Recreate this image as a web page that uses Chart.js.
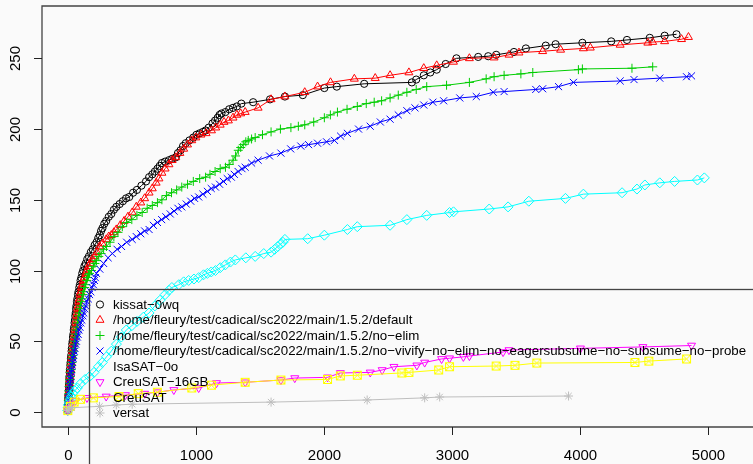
<!DOCTYPE html>
<html>
<head>
<meta charset="utf-8">
<script src="https://cdn.jsdelivr.net/npm/chart.js@4/dist/chart.umd.min.js"></script>
<style>
  html, body { margin: 0; padding: 0; background: #fafafa; }
  #wrap { width: 753px; height: 464px; }
</style>
</head>
<body>
<div id="wrap"><canvas id="cactus" width="753" height="464"></canvas></div>
<script>
// ===== DATA (time in s, solved instances) =====
const xTicks = [0, 1000, 2000, 3000, 4000, 5000];
const yTicks = [0, 50, 100, 150, 200, 250];

const seriesNames = [
    'kissat−0wq',
    '/home/fleury/test/cadical/sc2022/main/1.5.2/default',
    '/home/fleury/test/cadical/sc2022/main/1.5.2/no−elim',
    '/home/fleury/test/cadical/sc2022/main/1.5.2/no−vivify−no−elim−no−eagersubsume−no−subsume−no−probe',
    'IsaSAT−0o',
    'CreuSAT−16GB',
    'CreuSAT',
    'versat',
];

const kissat = [[0,1],[1,3],[2,5],[3,8],[4,10],[5,12],[7,15],[8,18],[10,20],[12,23],[13,25],[15,28],[17,30],[20,33],[22,35],[25,38],[27,40],[30,43],[32,45],[35,48],[38,50],[41,53],[44,55],[47,58],[50,60],[53,63],[56,65],[59,68],[62,70],[65,73],[68,75],[72,78],[75,80],[80,83],[84,85],[90,88],[95,90],[100,93],[106,95],[113,98],[120,100],[130,103],[140,105],[152,108],[165,110],[180,113],[195,115],[210,118],[225,120],[238,123],[250,125],[260,128],[271,130],[285,133],[300,135],[320,138],[340,140],[360,143],[379,145],[405,147],[430,149],[455,151],[480,152],[510,155],[540,157],[575,160],[611,163],[635,166],[660,168],[680,170],[700,172],[718,174],[735,176],[760,177],[790,178],[815,179],[843,180],[860,183],[880,185],[900,188],[921,190],[950,192],[980,194],[1005,196],[1030,197],[1055,198],[1076,199],[1100,201],[1130,204],[1150,206],[1170,208],[1185,210],[1200,211],[1230,212],[1260,214],[1290,215],[1320,216],[1355,218],[1447,219],[1579,221],[1695,223],[1835,224],[2003,229],[2100,230],[2314,232],[2686,233],[2720,235],[2779,238],[2830,240],[2880,242],[2950,246],[3034,250],[3204,251],[3282,251.5],[3344,252.5],[3483,254.5],[3576,257],[3731,259],[3808,260],[4017,261],[4242,262],[4365,263],[4543,264.5],[4659,266],[4752,267]];

const cadicalDefault = [[0,1],[2,3],[3,5],[5,8],[6,10],[8,13],[10,15],[12,18],[14,20],[16,23],[18,25],[21,28],[23,30],[26,33],[28,35],[31,38],[34,40],[37,43],[40,45],[43,48],[46,50],[50,53],[53,55],[57,58],[60,60],[63,63],[66,65],[69,68],[72,70],[76,73],[80,75],[85,78],[90,80],[95,83],[100,85],[106,88],[112,90],[120,93],[130,95],[140,98],[150,100],[162,103],[175,105],[192,108],[210,110],[228,113],[248,117],[270,119],[300,122],[320,124],[340,125],[360,127],[379,129],[410,132],[440,135],[470,138],[503,141],[535,145],[570,148],[600,151],[635,155],[660,158],[690,162],[712,165],[735,169],[760,172],[790,175],[815,178],[843,180],[875,183],[905,186],[935,189],[968,192],[1000,194],[1040,196],[1080,197],[1122,199],[1155,201],[1190,203],[1220,205],[1254,206],[1290,208],[1320,210],[1350,211],[1385,212],[1486,215],[1587,221],[1695,223],[1850,226],[1950,230],[2051,233],[2237,235.5],[2400,236],[2516,238],[2663,240],[2779,243],[2880,245],[3011,247.5],[3135,250],[3328,250.5],[3444,252.5],[3522,254],[3707,255],[3847,256],[4025,257],[4079,257.5],[4312,259.5],[4528,261],[4566,261.5],[4659,262],[4791,263.5],[4845,265]];

const cadicalNoElim = [[0,1],[2,3],[3,5],[5,8],[7,10],[9,13],[11,15],[14,18],[16,20],[19,23],[21,25],[24,28],[27,30],[30,33],[33,35],[37,38],[40,40],[44,43],[47,45],[51,48],[55,50],[59,53],[63,55],[67,58],[72,60],[76,63],[80,65],[85,68],[90,70],[95,73],[100,75],[106,78],[112,80],[118,83],[125,85],[132,88],[140,90],[148,93],[155,95],[162,97],[170,98],[185,100],[200,103],[212,105],[224,107],[242,110],[260,112],[280,115],[302,117],[330,120],[360,124],[392,127],[426,131],[460,134],[500,136],[540,139],[581,141],[620,144],[660,146],[700,148],[735,150],[770,153],[810,155],[850,157],[890,159],[935,161],[980,163],[1030,165],[1076,166],[1110,168],[1150,170],[1190,172],[1231,173],[1260,175],[1290,178],[1310,181],[1331,185],[1350,187],[1370,189],[1390,191],[1409,192],[1435,193],[1463,194],[1520,196],[1587,198],[1660,200],[1742,201],[1800,202],[1850,203],[1920,205],[2003,208],[2050,210],[2105,212],[2180,214],[2260,216],[2330,218],[2392,219],[2450,220],[2516,222],[2580,224],[2647,226],[2720,228],[2802,230],[2957,231],[3135,233],[3266,235.5],[3328,237],[3406,238],[3537,239],[3630,240],[3986,242],[4017,242.5],[4404,243],[4566,244]];

const cadicalNoVivify = [[0,1],[2,3],[4,5],[6,8],[8,10],[11,13],[13,15],[16,18],[18,20],[21,23],[24,25],[27,28],[30,30],[34,33],[38,35],[42,38],[46,40],[51,43],[56,45],[62,48],[68,50],[75,53],[82,55],[88,58],[95,60],[102,63],[110,65],[118,68],[125,70],[132,73],[140,75],[150,78],[160,80],[170,83],[180,85],[190,88],[200,90],[208,93],[215,95],[224,98],[250,101],[280,105],[315,109],[348,112],[385,115],[420,117],[460,120],[503,122],[535,124],[570,126],[600,128],[635,129],[668,132],[700,134],[733,136],[766,138],[800,140],[830,142],[860,144],[890,145],[925,147],[960,149],[990,151],[1022,152],[1055,154],[1090,156],[1120,158],[1153,159],[1185,161],[1215,163],[1245,165],[1277,166],[1300,168],[1330,170],[1360,172],[1385,173],[1435,176],[1486,178],[1575,181],[1664,183],[1740,186],[1819,188],[1880,189],[1950,190],[2020,191],[2082,192],[2130,195],[2183,197],[2270,200],[2361,202],[2440,205],[2516,207],[2580,210],[2647,213],[2710,215],[2779,217],[2850,219],[2934,220],[3060,222],[3189,223],[3321,226],[3406,226.5],[3653,228],[3707,228.5],[3831,230],[3947,233],[4312,234],[4420,235],[4621,236],[4830,237],[4869,237.6]];

const isasat = [[0,1],[3,3],[6,5],[12,7],[20,9],[28,11],[39,13],[55,15],[75,17],[100,20],[135,23],[170,25],[205,28],[240,32],[270,35],[302,39],[340,43],[380,48],[418,53],[457,58],[500,61],[540,64],[590,67],[635,70],[680,75],[720,79],[760,83],[790,86],[813,88],[867,90],[905,92],[944,93],[985,94],[1022,95],[1060,97],[1090,98],[1120,99],[1153,100],[1190,102],[1230,104],[1270,106],[1308,107.5],[1390,109],[1463,110],[1530,112],[1587,113],[1615,115],[1640,117],[1665,119],[1680,120],[1695,122],[1873,122.5],[2003,125],[2183,129],[2260,131],[2516,132],[2647,136],[2802,139],[2980,141],[3011,141.5],[3290,143.5],[3437,145],[3599,149],[3885,151],[4025,154],[4327,155],[4443,157.6],[4505,160.5],[4621,162],[4737,163],[4915,164],[4969,165.5]];

const creusat16 = [[0,1],[10,3],[30,6],[60,8],[150,10],[300,11],[450,12],[600,13],[700,14],[828,15.6],[1022,17],[1161,20.5],[1385,21],[1664,22.6],[1772,24],[2028,24.5],[2128,27.6],[2361,28],[2454,29.7],[2546,32],[2725,33],[2786,35],[2918,37.5],[2980,38],[3088,39],[3135,39.6],[3398,42.4],[3444,43.8],[4002,45],[4489,46],[4869,47]];

const creusat = [[0,1],[20,4],[50,7],[100,9],[200,10],[400,11],[550,13],[700,14],[968,17],[1122,19],[1385,21],[1664,22.6],[2028,23],[2128,25.5],[2260,26],[2608,27.6],[2663,28],[2895,29.7],[2980,32],[3344,32.5],[3491,33],[3661,34.6],[4427,35],[4536,36],[4830,37.5]];

const versat = [[0,1],[10,2],[30,3],[248,4],[379,5],[503,5.5],[1587,7],[2337,8.5],[2786,10],[2903,10.6],[3909,11.3]];

const seriesData = [kissat, cadicalDefault, cadicalNoElim, cadicalNoVivify, isasat, creusat16, creusat, versat];
const seriesColors = ['#000000', '#ff0000', '#00cd00', '#0000ff', '#00ffff', '#ff00ff', '#ffff00', '#bebebe'];
const legendMarker = [true, true, true, true, false, true, false, true];

// square with a cross inside (R pch 7)
function squareCross(color) {
    const c = document.createElement('canvas');
    c.width = 11; c.height = 11;
    const g = c.getContext('2d');
    g.strokeStyle = color;
    g.lineWidth = 1;
    g.strokeRect(1.5, 1.5, 8, 8);
    g.beginPath();
    g.moveTo(1.5, 1.5); g.lineTo(9.5, 9.5);
    g.moveTo(9.5, 1.5); g.lineTo(1.5, 9.5);
    g.stroke();
    return c;
}

const pointStyles = ['circle', 'triangle', 'cross', 'crossRot', 'rectRot', 'triangle', squareCross('#ffff00'), 'star'];
const pointRotations = [0, 0, 0, 0, 0, 180, 0, 0];
const pointRadii = [3.6, 4.6, 4.5, 5, 5, 4.6, 5, 4.5];

const FONT = '"Liberation Sans", Arial, Helvetica, sans-serif';
const FRAME = '#444';

function drawMarker(ctx, i, x, y) {
    ctx.save();
    ctx.strokeStyle = seriesColors[i];
    ctx.lineWidth = 1;
    ctx.beginPath();
    const r = pointRadii[i];
    if (i === 0) {
        ctx.arc(x, y, r, 0, Math.PI * 2);
    } else if (i === 1 || i === 5) {
        const s = i === 1 ? 1 : -1;
        ctx.moveTo(x, y - s * r);
        ctx.lineTo(x + r * 0.866, y + s * r * 0.5);
        ctx.lineTo(x - r * 0.866, y + s * r * 0.5);
        ctx.closePath();
    } else if (i === 2) {
        ctx.moveTo(x - r, y); ctx.lineTo(x + r, y);
        ctx.moveTo(x, y - r); ctx.lineTo(x, y + r);
    } else if (i === 3) {
        const d = r * 0.707;
        ctx.moveTo(x - d, y - d); ctx.lineTo(x + d, y + d);
        ctx.moveTo(x + d, y - d); ctx.lineTo(x - d, y + d);
    } else if (i === 7) {
        const d = r * 0.707;
        ctx.moveTo(x - r, y); ctx.lineTo(x + r, y);
        ctx.moveTo(x, y - r); ctx.lineTo(x, y + r);
        ctx.moveTo(x - d, y - d); ctx.lineTo(x + d, y + d);
        ctx.moveTo(x + d, y - d); ctx.lineTo(x - d, y + d);
    }
    ctx.stroke();
    ctx.restore();
}

const rFrame = {
    id: 'rFrame',
    afterDraw(chart) {
        const ctx = chart.ctx;
        const area = chart.chartArea;
        const xs = chart.scales.x;
        const ys = chart.scales.y;

        ctx.save();
        ctx.strokeStyle = FRAME;
        ctx.lineWidth = 1.3;
        ctx.beginPath();
        ctx.moveTo(chart.width + 2, area.top);
        ctx.lineTo(area.left, area.top);
        ctx.lineTo(area.left, area.bottom);
        ctx.lineTo(chart.width + 2, area.bottom);
        ctx.stroke();

        // ticks and labels
        ctx.strokeStyle = '#222';
        ctx.lineWidth = 1;
        ctx.fillStyle = '#000';
        ctx.font = '15px ' + FONT;
        ctx.textAlign = 'center';
        ctx.textBaseline = 'middle';
        xTicks.forEach(v => {
            const px = Math.round(xs.getPixelForValue(v)) + 0.5;
            ctx.beginPath();
            ctx.moveTo(px, area.bottom);
            ctx.lineTo(px, area.bottom + 8);
            ctx.stroke();
            ctx.fillText(String(v), px, 456);
        });
        yTicks.forEach(v => {
            const py = Math.round(ys.getPixelForValue(v)) + 0.5;
            ctx.beginPath();
            ctx.moveTo(area.left, py);
            ctx.lineTo(area.left - 8, py);
            ctx.stroke();
            ctx.save();
            ctx.translate(16, py);
            ctx.rotate(-Math.PI / 2);
            ctx.fillText(String(v), 0, 0);
            ctx.restore();
        });

        // legend box
        ctx.strokeStyle = FRAME;
        ctx.lineWidth = 1.3;
        ctx.strokeRect(89.5, 289.5, chart.width + 10, 200);
        ctx.font = '13.3px ' + FONT;
        ctx.textAlign = 'left';
        seriesNames.forEach((name, i) => {
            const y = 304.5 + i * 15.5;
            if (legendMarker[i]) drawMarker(ctx, i, 100, y);
            ctx.fillStyle = '#000';
            ctx.fillText(name, 113, y + 0.5);
        });
        ctx.restore();
    }
};

new Chart(document.getElementById('cactus'), {
    type: 'scatter',
    data: {
        datasets: seriesData.map((arr, i) => ({
            label: seriesNames[i],
            data: arr.map(([x, y]) => ({ x, y })),
            showLine: true,
            borderColor: seriesColors[i],
            borderWidth: 1,
            pointStyle: pointStyles[i],
            pointRotation: pointRotations[i],
            pointRadius: pointRadii[i],
            pointBorderWidth: 1,
            pointBorderColor: seriesColors[i],
            pointBackgroundColor: 'rgba(0,0,0,0)',
            order: -i,
        }))
    },
    options: {
        responsive: false,
        animation: false,
        devicePixelRatio: 1,
        layout: { padding: { top: 4, left: 0, right: 0, bottom: 0 } },
        plugins: { legend: { display: false }, tooltip: { enabled: false } },
        scales: {
            x: {
                type: 'linear',
                min: -201,
                max: 5302,
                grid: { display: false },
                border: { display: false },
                ticks: { display: false },
                afterFit(scale) { scale.height = 37; },
            },
            y: {
                type: 'linear',
                min: -10.6,
                max: 287,
                grid: { display: false },
                border: { display: false },
                ticks: { display: false },
                afterFit(scale) { scale.width = 42; },
            },
        }
    },
    plugins: [rFrame]
});
</script>
</body>
</html>
